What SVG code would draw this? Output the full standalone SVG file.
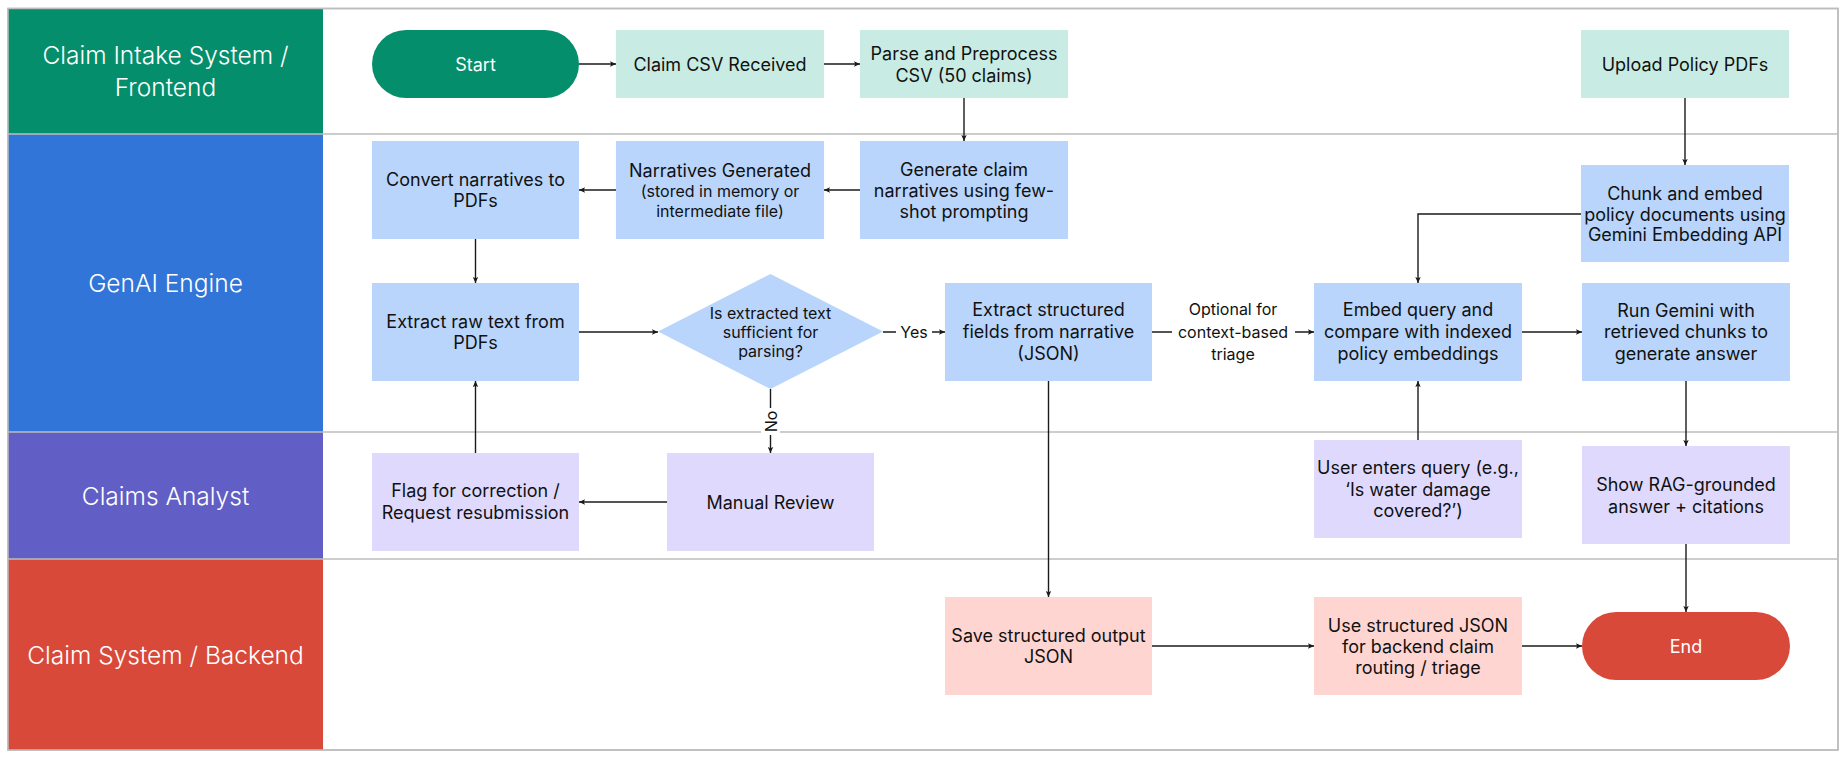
<svg xmlns="http://www.w3.org/2000/svg" width="1846" height="759" viewBox="0 0 1846 759">
<style>
text{font-family:Inter,"Noto Sans","Liberation Sans",sans-serif;text-anchor:middle;fill:#111;}
.lane{font-size:24.5px;fill:#fff;font-weight:300;}
.t{font-size:18px;}
.s{font-size:16px;}
.w{fill:#fff;}
.mint{fill:#C8ECE3;}
.blue{fill:#B9D5FC;}
.lav{fill:#DFDAFD;}
.pink{fill:#FFD5D1;}
.c{fill:none;stroke:#1a1a1a;stroke-width:1.4;marker-end:url(#ah);}
.sep{stroke:#BDBDBD;stroke-width:1.5;fill:none;}
</style>
<defs>
<marker id="ah" markerUnits="userSpaceOnUse" markerWidth="7" markerHeight="7" refX="6" refY="3" orient="auto">
<path d="M0,0.3 L6,3 L0,5.7 L1.2,3 z" fill="#1a1a1a"/>
</marker>
</defs>
<rect x="0" y="0" width="1846" height="759" fill="#fff"/>
<g id="lanes">
<rect x="8" y="8.5" width="1830" height="741.5" fill="#fff" class="sep"/>
<rect x="8" y="8.5" width="315" height="125.5" fill="#048E6B"/>
<rect x="8" y="134" width="315" height="298" fill="#3175D8"/>
<rect x="8" y="432" width="315" height="127" fill="#615EC5"/>
<rect x="8" y="559" width="315" height="191" fill="#D8493A"/>
<line x1="8" y1="134" x2="1838" y2="134" class="sep"/>
<line x1="8" y1="432" x2="1838" y2="432" class="sep"/>
<line x1="8" y1="559" x2="1838" y2="559" class="sep"/>
<rect x="8" y="8.5" width="1830" height="741.5" class="sep"/>
<text class="lane" x="165.5" y="64">Claim Intake System /</text>
<text class="lane" x="165.5" y="96">Frontend</text>
<text class="lane" x="165.5" y="292">GenAI Engine</text>
<text class="lane" x="165.5" y="505">Claims Analyst</text>
<text class="lane" x="165.5" y="664">Claim System / Backend</text>
</g>
<g id="connectors">
<path class="c" d="M579,64 H616"/>
<path class="c" d="M824,64 H860"/>
<path class="c" d="M964,98 V141"/>
<path class="c" d="M860,190 H824"/>
<path class="c" d="M616,190 H579"/>
<path class="c" d="M475.5,239 V283"/>
<path class="c" d="M579,332 H658"/>
<path class="c" d="M883,332 H945"/>
<path class="c" d="M770.5,389 V453"/>
<path class="c" d="M667,502 H579"/>
<path class="c" d="M475.5,453 V381"/>
<path class="c" d="M1152,332 H1314"/>
<path class="c" d="M1685,98 V165"/>
<path class="c" d="M1581,214 H1418 V283"/>
<path class="c" d="M1418,440 V381"/>
<path class="c" d="M1522,332 H1582"/>
<path class="c" d="M1686,381 V446"/>
<path class="c" d="M1686,544 V612"/>
<path class="c" d="M1048.5,381 V597"/>
<path class="c" d="M1152,646 H1314"/>
<path class="c" d="M1522,646 H1582"/>
<rect x="896" y="322" width="36" height="20" fill="#fff"/>
<text class="s" x="914" y="337.5">Yes</text>
<rect x="761" y="408" width="19" height="27" fill="#fff"/>
<text class="s" x="0" y="0" transform="translate(776.5,421.5) rotate(-90)">No</text>
<rect x="1172" y="298" width="123" height="68" fill="#fff"/>
<text class="s" x="1233" y="315">Optional for</text>
<text class="s" x="1233" y="337.5">context-based</text>
<text class="s" x="1233" y="360">triage</text>
</g>
<g id="start">
<rect x="372" y="30" width="207" height="68" rx="34" fill="#048E6B"/>
<text class="t w" x="475.5" y="70.5">Start</text>
</g>
<g id="claim-csv">
<rect x="616" y="30" width="208" height="68" class="mint"/>
<text class="t" x="720" y="70.5">Claim CSV Received</text>
</g>
<g id="parse">
<rect x="860" y="30" width="208" height="68" class="mint"/>
<text class="t" x="964" y="59.5">Parse and Preprocess</text>
<text class="t" x="964" y="81.5">CSV (50 claims)</text>
</g>
<g id="upload">
<rect x="1581" y="30" width="208" height="68" class="mint"/>
<text class="t" x="1685" y="70.5">Upload Policy PDFs</text>
</g>
<g id="convert">
<rect x="372" y="141" width="207" height="98" class="blue"/>
<text class="t" x="475.5" y="185.5">Convert narratives to</text>
<text class="t" x="475.5" y="207">PDFs</text>
</g>
<g id="narratives">
<rect x="616" y="141" width="208" height="98" class="blue"/>
<text class="t" x="720" y="176.5">Narratives Generated</text>
<text class="s" x="720" y="196.5">(stored in memory or</text>
<text class="s" x="720" y="216.5">intermediate file)</text>
</g>
<g id="generate">
<rect x="860" y="141" width="208" height="98" class="blue"/>
<text class="t" x="964" y="175.5">Generate claim</text>
<text class="t" x="964" y="197">narratives using few-</text>
<text class="t" x="964" y="217.5">shot prompting</text>
</g>
<g id="chunk">
<rect x="1581" y="165" width="208" height="97" class="blue"/>
<text class="t" x="1685" y="199.5">Chunk and embed</text>
<text class="t" x="1685" y="220.5">policy documents using</text>
<text class="t" x="1685" y="241">Gemini Embedding API</text>
</g>
<g id="extract-raw">
<rect x="372" y="283" width="207" height="98" class="blue"/>
<text class="t" x="475.5" y="327.5">Extract raw text from</text>
<text class="t" x="475.5" y="348.5">PDFs</text>
</g>
<g id="decision">
<polygon points="770.5,274 883,331.5 770.5,389 658,331.5" class="blue"/>
<text class="s" x="770.5" y="318.5">Is extracted text</text>
<text class="s" x="770.5" y="337.5">sufficient for</text>
<text class="s" x="770.5" y="356.5">parsing?</text>
</g>
<g id="extract-structured">
<rect x="945" y="283" width="207" height="98" class="blue"/>
<text class="t" x="1048.5" y="315.5">Extract structured</text>
<text class="t" x="1048.5" y="338">fields from narrative</text>
<text class="t" x="1048.5" y="359.5">(JSON)</text>
</g>
<g id="embed-query">
<rect x="1314" y="283" width="208" height="98" class="blue"/>
<text class="t" x="1418" y="315.5">Embed query and</text>
<text class="t" x="1418" y="338">compare with indexed</text>
<text class="t" x="1418" y="359.5">policy embeddings</text>
</g>
<g id="run-gemini">
<rect x="1582" y="283" width="208" height="98" class="blue"/>
<text class="t" x="1686" y="317">Run Gemini with</text>
<text class="t" x="1686" y="338">retrieved chunks to</text>
<text class="t" x="1686" y="359.5">generate answer</text>
</g>
<g id="flag">
<rect x="372" y="453" width="207" height="98" class="lav"/>
<text class="t" x="475.5" y="497">Flag for correction /</text>
<text class="t" x="475.5" y="519">Request resubmission</text>
</g>
<g id="manual-review">
<rect x="667" y="453" width="207" height="98" class="lav"/>
<text class="t" x="770.5" y="508.5">Manual Review</text>
</g>
<g id="user-query">
<rect x="1314" y="440" width="208" height="98" class="lav"/>
<text class="t" x="1418" y="473.5">User enters query (e.g.,</text>
<text class="t" x="1418" y="495.5">‘Is water damage</text>
<text class="t" x="1418" y="517">covered?’)</text>
</g>
<g id="show-rag">
<rect x="1582" y="446" width="208" height="98" class="lav"/>
<text class="t" x="1686" y="490.5">Show RAG-grounded</text>
<text class="t" x="1686" y="512.5">answer + citations</text>
</g>
<g id="save-json">
<rect x="945" y="597" width="207" height="98" class="pink"/>
<text class="t" x="1048.5" y="642">Save structured output</text>
<text class="t" x="1048.5" y="663">JSON</text>
</g>
<g id="use-json">
<rect x="1314" y="597" width="208" height="98" class="pink"/>
<text class="t" x="1418" y="631.5">Use structured JSON</text>
<text class="t" x="1418" y="652.5">for backend claim</text>
<text class="t" x="1418" y="674">routing / triage</text>
</g>
<g id="end">
<rect x="1582" y="612" width="208" height="68" rx="34" fill="#D8493A"/>
<text class="t w" x="1686" y="652.5">End</text>
</g>
</svg>
